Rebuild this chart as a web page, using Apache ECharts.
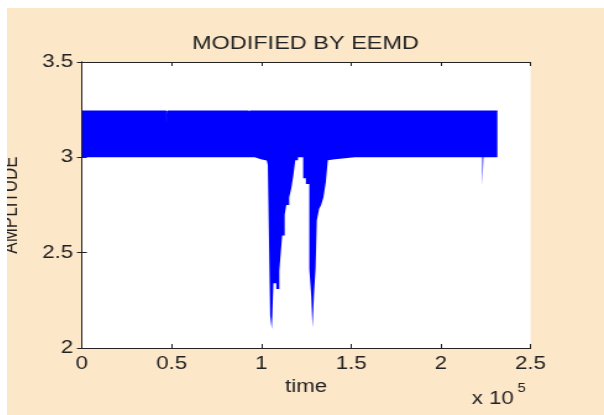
<!DOCTYPE html>
<html>
<head>
<meta charset="utf-8">
<script src="https://cdn.jsdelivr.net/npm/echarts@6/dist/echarts.min.js"></script>
<style>
  html, body { margin: 0; padding: 0; background: #fff; }
  #wrap { position: absolute; left: 7px; top: 8px; width: 597px; height: 407px; overflow: hidden; background: #fce7c9; }
  /* the reference image is stretched sideways, so the chart is too */
  #chart { width: 483px; height: 407px; transform: scaleX(1.236); transform-origin: 0 0; }
</style>
</head>
<body>
<div id="wrap"><div id="chart"></div></div>
<script>
const xTickLabels = ['0', '0.5', '1', '1.5', '2', '2.5'];
const yTickLabels = ['2', '2.5', '3', '3.5'];

// upper edge of the dense signal, each value held until the next time
const upperTime = [0, 47000, 47700, 93000, 93500, 231500];
const upperAmp = [3.243, 3.18, 3.243, 3.226, 3.243, 3.243];

// lower edge of the dense signal (last point runs a bit past the end so the mask covers it)
const lowerTime = [
  0, 9000, 9400, 26000, 26300, 44000, 44400, 61000, 61300, 78000, 78400,
  96300, 99700, 103000, 103600, 104900, 105800, 106700, 108300, 110000,
  110800, 111600, 113000, 113900, 115500, 116700, 117800, 118900, 120400,
  123300, 124800, 126700, 127800, 128500, 129300, 130200, 130900, 132200,
  133300, 134600, 135900, 137000, 138300, 141000, 152000, 152400, 170000,
  170300, 190000, 190400, 208000, 208300, 223100, 223700, 232500
];
const lowerAmp = [
  3.0, 2.993, 3.0, 2.992, 3.0, 2.994, 3.0, 2.992, 3.0, 2.993, 3.0,
  2.99, 2.983, 2.975, 2.96, 2.17, 2.10, 2.34, 2.31, 2.405,
  2.50, 2.59, 2.70, 2.75, 2.79, 2.84, 2.905, 2.985, 3.0,
  2.89, 2.86, 2.415, 2.27, 2.107, 2.28, 2.42, 2.67, 2.73,
  2.75, 2.79, 2.87, 2.985, 2.99, 3.0, 2.993, 3.0, 2.992,
  3.0, 2.993, 3.0, 2.992, 3.0, 2.853, 3.0, 3.0
];

// hold each value until the next time (corner points of a staircase)
const held = (times, vals) => {
  const out = [];
  times.forEach((t, i) => {
    out.push([t, vals[i]]);
    if (i < times.length - 1) out.push([times[i + 1], vals[i]]);
  });
  return out;
};

const font = "'Liberation Sans', Arial, sans-serif";
const ink = '#222';

const myChart = echarts.init(document.getElementById('chart'));

const option = {
  animation: false,
  backgroundColor: 'transparent',
  title: {
    text: 'MODIFIED BY EEMD',
    left: 'center',
    top: 21,
    textStyle: { fontFamily: font, fontSize: 19, fontWeight: 'normal', color: ink },
  },
  grid: {
    left: 60.6,
    right: 59.4,
    top: 54,
    bottom: 67,
    show: true,
    backgroundColor: '#fff',
    borderWidth: 0,
    outerBoundsMode: 'none',
  },
  xAxis: [
    {
      type: 'value',
      min: 0,
      max: 250000,
      interval: 50000,
      z: 5,
      name: 'time',
      nameLocation: 'middle',
      nameGap: 22,
      nameTextStyle: { fontFamily: font, fontSize: 18, color: ink },
      axisLine: { show: true, lineStyle: { color: ink, width: 1 } },
      axisTick: { show: true, inside: true, length: 4, lineStyle: { color: ink } },
      axisLabel: {
        margin: 7,
        fontFamily: font,
        fontSize: 18,
        color: ink,
        formatter: (v, i) => xTickLabels[i],
      },
      splitLine: { show: false },
    },
    {
      type: 'value',
      position: 'top',
      min: 0,
      max: 250000,
      interval: 50000,
      z: 5,
      axisLine: { show: true, lineStyle: { color: ink, width: 1 } },
      axisTick: { show: true, inside: true, length: 4, lineStyle: { color: ink } },
      axisLabel: { show: false },
      splitLine: { show: false },
    },
  ],
  yAxis: [
    {
      type: 'value',
      min: 2,
      max: 3.5,
      interval: 0.5,
      z: 5,
      name: 'AMPLITUDE',
      nameLocation: 'middle',
      nameRotate: 90,
      nameGap: 49,
      nameTextStyle: { fontFamily: font, fontSize: 17, color: ink },
      axisLine: { show: true, lineStyle: { color: ink, width: 1 } },
      axisTick: { show: true, inside: true, length: 4, lineStyle: { color: ink } },
      axisLabel: {
        margin: 7,
        fontFamily: font,
        fontSize: 18,
        color: ink,
        formatter: (v, i) => yTickLabels[i],
      },
      splitLine: { show: false },
    },
    {
      type: 'value',
      position: 'right',
      min: 2,
      max: 3.5,
      interval: 0.5,
      z: 5,
      axisLine: { show: true, lineStyle: { color: ink, width: 1 } },
      axisTick: { show: true, inside: true, length: 4, lineStyle: { color: ink } },
      axisLabel: { show: false },
      splitLine: { show: false },
    },
  ],
  graphic: [
    {
      type: 'text',
      left: 376,
      top: 382,
      style: { text: 'x 10', font: `18px ${font}`, fill: ink },
    },
    {
      type: 'text',
      left: 413,
      top: 375,
      style: { text: '5', font: `12px ${font}`, fill: ink },
    },
  ],
  series: [
    // blue from the upper edge down to the axis
    {
      name: 'upper',
      type: 'line',
      showSymbol: false,
      silent: true,
      data: held(upperTime, upperAmp),
      lineStyle: { color: '#0000ff', width: 1 },
      areaStyle: { color: '#0000ff', opacity: 1, origin: 'start' },
    },
    // white below the lower edge, leaving the band blue
    {
      name: 'lower',
      type: 'line',
      showSymbol: false,
      silent: true,
      data: held(lowerTime, lowerAmp),
      lineStyle: { width: 0, opacity: 0 },
      areaStyle: { color: '#fff', opacity: 1, origin: 'start' },
    },
  ],
};

myChart.setOption(option);
window.addEventListener('resize', () => {
  myChart.resize();
});
</script>
</body>
</html>
